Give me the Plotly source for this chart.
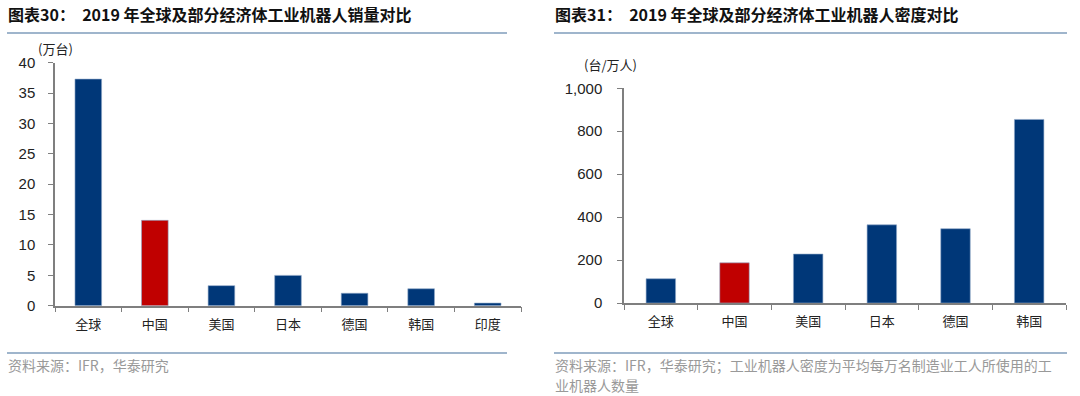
import plotly.graph_objects as go

# ---- data ----
cats_sales = ["全球", "中国", "美国", "日本", "德国", "韩国", "印度"]
sales_wan = [37.3, 14.05, 3.3, 4.99, 2.05, 2.79, 0.43]
cats_density = ["全球", "中国", "美国", "日本", "德国", "韩国"]
density = [113, 187, 228, 364, 346, 855]
y1_ticks = [0, 5, 10, 15, 20, 25, 30, 35, 40]
y2_ticks = [0, 200, 400, 600, 800, 1000]

NAVY = "#003778"
RED = "#C00000"
W, H = 1080, 396

def colors(cats):
    return [RED if c == "中国" else NAVY for c in cats]

fig = go.Figure()
fig.add_trace(go.Bar(x=cats_sales, y=sales_wan, marker=dict(color=colors(cats_sales), line=dict(color="#8fa8c8", width=0.6)),
                     width=0.4, xaxis="x", yaxis="y", showlegend=False, hoverinfo="x+y"))
fig.add_trace(go.Bar(x=cats_density, y=density, marker=dict(color=colors(cats_density), line=dict(color="#8fa8c8", width=0.6)),
                     width=0.4, xaxis="x2", yaxis="y2", showlegend=False, hoverinfo="x+y"))

def px_x(p): return p / W
def px_y(p): return 1 - p / H

axis_common = dict(showgrid=False, zeroline=False, showline=True, linecolor="#7f7f7f", linewidth=1.5,
                   ticks="outside", tickcolor="#7f7f7f", tickwidth=1, ticklen=5, automargin=False)
xfont = dict(family="Noto Sans CJK SC", size=13, color="#222")
yfont = dict(family="Liberation Sans, Arial", size=15, color="#222")

fig.update_layout(
    width=W, height=H, margin=dict(l=0, r=0, t=0, b=0, autoexpand=False),
    paper_bgcolor="white", plot_bgcolor="white", bargap=0.6,
    xaxis=dict(domain=[px_x(55), px_x(521)], anchor="y", tickson="boundaries", tickfont=xfont,
               ticklabelstandoff=6, **axis_common),
    yaxis=dict(domain=[px_y(305.7), px_y(62.7)], anchor="x", range=[0, 40], tickvals=y1_ticks,
               tickfont=yfont, ticklabelstandoff=10, **axis_common),
    xaxis2=dict(domain=[px_x(624), px_x(1066)], anchor="y2", tickson="boundaries", tickfont=xfont,
                ticklabelstandoff=6, **axis_common),
    yaxis2=dict(domain=[px_y(303), px_y(88.3)], anchor="x2", range=[0, 1000], tickvals=y2_ticks,
                tickformat=",d", tickfont=yfont, ticklabelstandoff=12, **axis_common),
)

title_font = dict(family="Noto Sans CJK SC", size=16, color="#111")
foot_font = dict(family="Noto Sans CJK SC", size=14, color="#999999")

ann = [
    dict(x=px_x(7), y=px_y(14), text="<b>图表30：  2019 年全球及部分经济体工业机器人销量对比</b>", font=title_font),
    dict(x=px_x(554), y=px_y(14), text="<b>图表31：  2019 年全球及部分经济体工业机器人密度对比</b>", font=title_font),
    dict(x=px_x(37), y=px_y(49), text="(万台)", font=dict(family="Noto Sans CJK SC", size=13, color="#222")),
    dict(x=px_x(583), y=px_y(64), text="(台/万人)", font=dict(family="Noto Sans CJK SC", size=13, color="#222")),
    dict(x=px_x(7), y=px_y(365), text="资料来源：IFR，华泰研究", font=foot_font),
    dict(x=px_x(554), y=px_y(365), text="资料来源：IFR，华泰研究；工业机器人密度为平均每万名制造业工人所使用的工", font=foot_font),
    dict(x=px_x(554), y=px_y(385), text="业机器人数量", font=foot_font),
]
for a in ann:
    fig.add_annotation(xref="paper", yref="paper", xanchor="left", yanchor="middle", showarrow=False,
                       borderpad=0, **a)

line_col = "#9fb5cc"
for x0, x1 in [(7, 507), (554, 1067)]:
    for yy in [33, 353]:
        fig.add_shape(type="line", xref="paper", yref="paper", x0=px_x(x0), x1=px_x(x1), y0=px_y(yy), y1=px_y(yy),
                      line=dict(color=line_col, width=2))

fig.write_html("out.html", config={"displayModeBar": False},
               post_script="document.body.style.margin='0';document.body.style.overflow='hidden';")
